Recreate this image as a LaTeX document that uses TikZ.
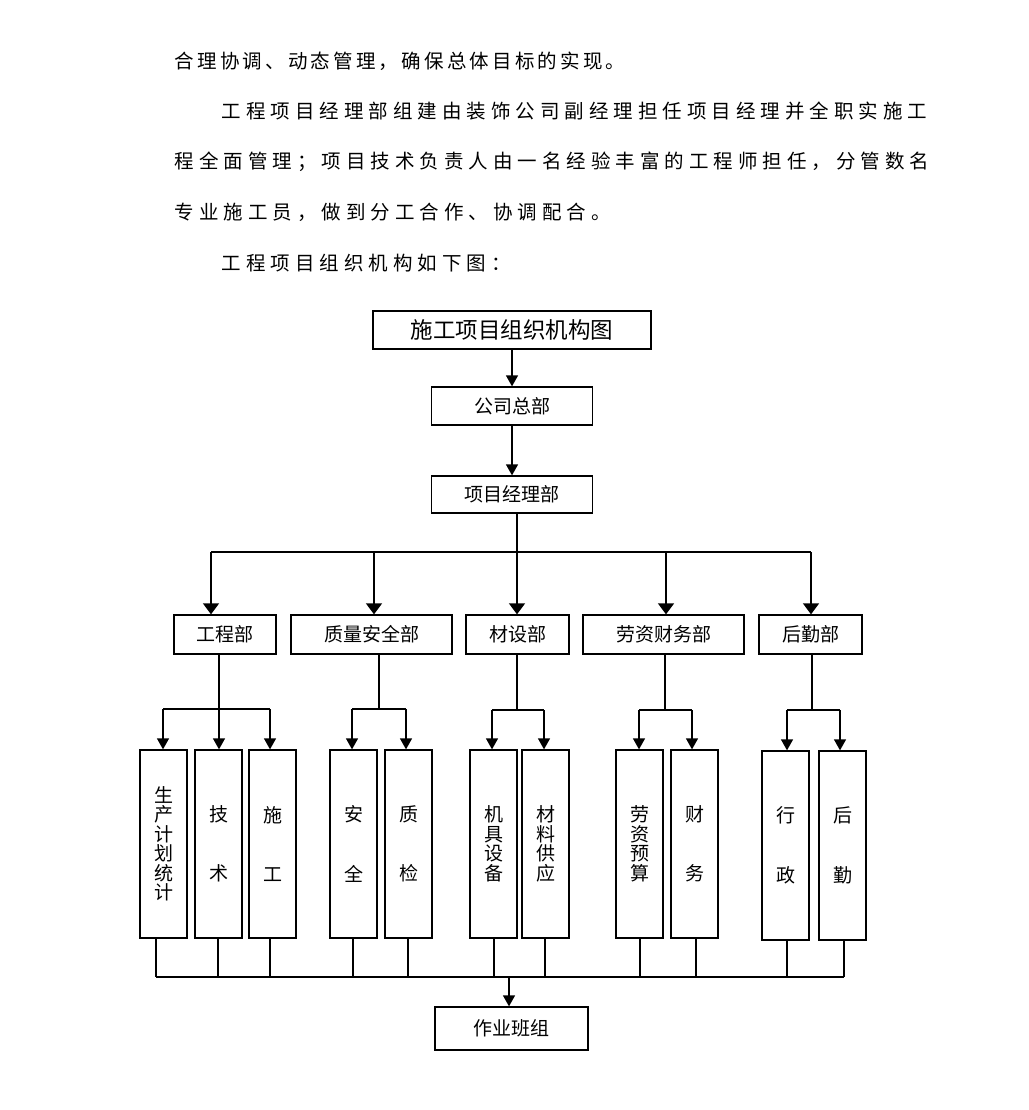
\documentclass[tikz,border=0pt]{standalone}
\usepackage{fontspec}
\usetikzlibrary{arrows.meta}
\newfontfamily\cjk{Noto Sans CJK SC}
\newdimen\lsp
\def\spc#1{\ifx#1\relax\else#1\kern\lsp\expandafter\spc\fi}
\def\dfont{\cjk\fontsize{19}{19.5}\selectfont}
\def\tfont{\cjk\fontsize{22.5}{22.5}\selectfont}
\def\pfont{\cjk\fontsize{19.5}{19.5}\selectfont}
\tikzset{
  ln/.style={line width=1.3pt},
  arr/.style={ln, -{Triangle[width=12pt,length=11pt]}},
  arrb/.style={ln, -{Triangle[width=16pt,length=11pt]}},
  bx/.style={draw, line width=1.3pt, inner sep=0pt, font=\dfont},
  vbx/.style={bx, minimum width=47pt, minimum height=188pt, align=center},
  hbx/.style={bx, minimum height=39pt},
  para/.style={anchor=base west, inner sep=0pt, font=\pfont},
}
\begin{document}
\begin{tikzpicture}[x=1pt,y=-1pt]
\useasboundingbox (0,0) rectangle (1028,1110);

% paragraph text
\node[para] (p1) at (174.5,68.9) {\lsp=3.2pt\spc 合理协调、动态管理，确保总体目标的实现。\relax};
\node[para] (p2) at (221.5,118.2) {\lsp=5pt\spc 工程项目经理部组建由装饰公司副经理担任项目经理并全职实施工\relax};
\node[para] (p3) at (174.5,168.9) {\lsp=5pt\spc 程全面管理；项目技术负责人由一名经验丰富的工程师担任，分管数名\relax};
\node[para] (p4) at (174.5,219.9) {\lsp=5pt\spc 专业施工员，做到分工合作、协调配合。\relax};
\node[para] (p5) at (221.5,270.5) {\lsp=5pt\spc 工程项目组织机构如下图：\relax};

% top boxes
\node[bx, font=\tfont, minimum width=278pt, minimum height=38pt] (title) at (512,330) {施工项目组织机构图};
\node[bx, minimum width=161pt, minimum height=38pt] (hq) at (512,406) {公司总部};
\node[bx, minimum width=161pt, minimum height=37pt] (pm) at (512,494.5) {项目经理部};

% level 2
\node[hbx, minimum width=102pt] (gc) at (225,634.5) {工程部};
\node[hbx, minimum width=161pt] (zl) at (371.5,634.5) {质量安全部};
\node[hbx, minimum width=103pt] (cs) at (517.5,634.5) {材设部};
\node[hbx, minimum width=161pt] (lz) at (663.5,634.5) {劳资财务部};
\node[hbx, minimum width=103pt] (hb) at (810.5,634.5) {后勤部};

% level 3
\node[vbx] (a1) at (163.5,844) {生\\产\\计\\划\\统\\计};
\node[vbx] (a2) at (218.5,844) {技\\[40pt]术};
\node[vbx] (a3) at (272.5,844) {施\\[40pt]工};
\node[vbx] (b1) at (353.5,844) {安\\[40pt]全};
\node[vbx] (b2) at (408.5,844) {质\\[40pt]检};
\node[vbx] (c1) at (493.5,844) {机\\具\\设\\备};
\node[vbx] (c2) at (545.5,844) {材\\料\\供\\应};
\node[vbx] (d1) at (639.5,844) {劳\\资\\预\\算};
\node[vbx] (d2) at (694.5,844) {财\\[40pt]务};
\node[vbx, minimum height=189pt] (e1) at (785.5,845.5) {行\\[40pt]政};
\node[vbx, minimum height=189pt] (e2) at (842.5,845.5) {后\\[40pt]勤};

% bottom box
\node[bx, minimum width=153pt, minimum height=43pt] (team) at (511.5,1028.5) {作业班组};

% top connectors
\draw[arr] (title) -- (hq);
\draw[arr] (hq) -- (pm);

% main bus
\coordinate (j0) at (517,552);
\coordinate (j1) at (211,552);
\coordinate (j2) at (374,552);
\coordinate (j3) at (517,552);
\coordinate (j4) at (666,552);
\coordinate (j5) at (811,552);
\draw[ln] (pm.south -| j0) -- (j0);
\draw[ln] (j1) -- (j5);
\draw[arrb] (j1) -- (j1 |- gc.north);
\draw[arrb] (j2) -- (j2 |- zl.north);
\draw[arrb] (j3) -- (j3 |- cs.north);
\draw[arrb] (j4) -- (j4 |- lz.north);
\draw[arrb] (j5) -- (j5 |- hb.north);

% sub buses
\coordinate (k1) at (219,709);
\coordinate (k1l) at (163,709);
\coordinate (k1r) at (270,709);
\draw[ln] (gc.south -| k1) -- (k1);
\draw[ln] (k1l) -- (k1r);
\draw[arr] (k1l) -- (k1l |- a1.north);
\draw[arr] (k1) -- (k1 |- a2.north);
\draw[arr] (k1r) -- (k1r |- a3.north);

\coordinate (k2) at (379,709);
\coordinate (k2l) at (352,709);
\coordinate (k2r) at (406,709);
\draw[ln] (zl.south -| k2) -- (k2);
\draw[ln] (k2l) -- (k2r);
\draw[arr] (k2l) -- (k2l |- b1.north);
\draw[arr] (k2r) -- (k2r |- b2.north);

\coordinate (k3) at (517,710);
\coordinate (k3l) at (492,710);
\coordinate (k3r) at (544,710);
\draw[ln] (cs.south -| k3) -- (k3);
\draw[ln] (k3l) -- (k3r);
\draw[arr] (k3l) -- (k3l |- c1.north);
\draw[arr] (k3r) -- (k3r |- c2.north);

\coordinate (k4) at (665,710);
\coordinate (k4l) at (639,710);
\coordinate (k4r) at (692,710);
\draw[ln] (lz.south -| k4) -- (k4);
\draw[ln] (k4l) -- (k4r);
\draw[arr] (k4l) -- (k4l |- d1.north);
\draw[arr] (k4r) -- (k4r |- d2.north);

\coordinate (k5) at (812,710);
\coordinate (k5l) at (787,710);
\coordinate (k5r) at (840,710);
\draw[ln] (hb.south -| k5) -- (k5);
\draw[ln] (k5l) -- (k5r);
\draw[arr] (k5l) -- (k5l |- e1.north);
\draw[arr] (k5r) -- (k5r |- e2.north);

% bottom bus
\coordinate (m1) at (156,977);
\coordinate (m2) at (218,977);
\coordinate (m3) at (270,977);
\coordinate (m4) at (353,977);
\coordinate (m5) at (408,977);
\coordinate (m6) at (494,977);
\coordinate (m7) at (545,977);
\coordinate (m8) at (640,977);
\coordinate (m9) at (696,977);
\coordinate (m10) at (787,977);
\coordinate (m11) at (844,977);
\coordinate (mt) at (509,977);
\draw[ln] (a1.south -| m1) -- (m1);
\draw[ln] (a2.south -| m2) -- (m2);
\draw[ln] (a3.south -| m3) -- (m3);
\draw[ln] (b1.south -| m4) -- (m4);
\draw[ln] (b2.south -| m5) -- (m5);
\draw[ln] (c1.south -| m6) -- (m6);
\draw[ln] (c2.south -| m7) -- (m7);
\draw[ln] (d1.south -| m8) -- (m8);
\draw[ln] (d2.south -| m9) -- (m9);
\draw[ln] (e1.south -| m10) -- (m10);
\draw[ln] (e2.south -| m11) -- (m11);
\draw[ln] (m1) -- (m11);
\draw[arr] (mt) -- (mt |- team.north);
\end{tikzpicture}
\end{document}
